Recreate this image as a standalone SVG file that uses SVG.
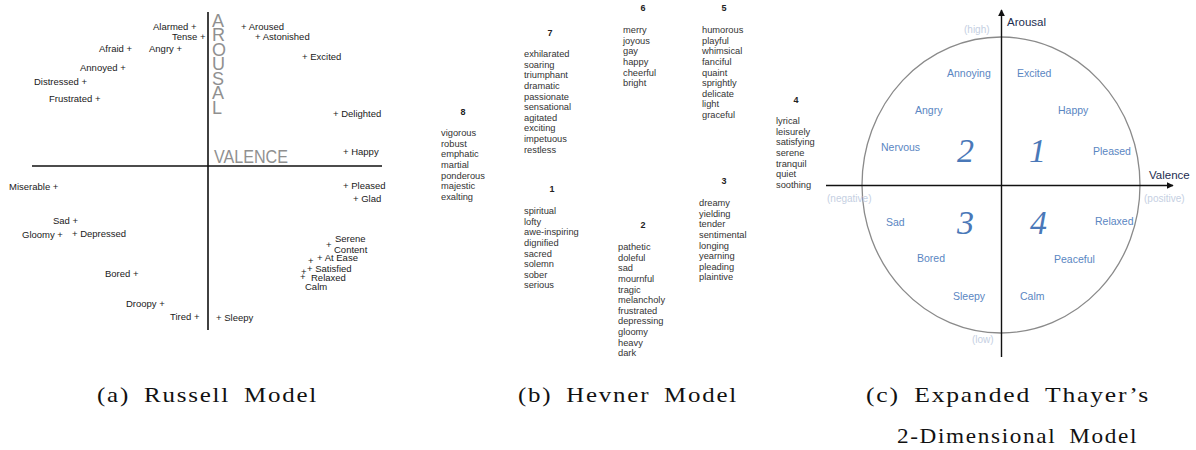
<svg xmlns="http://www.w3.org/2000/svg" width="1196" height="450" viewBox="0 0 1196 450">
<style>
.r{font-family:"Liberation Sans",Arial,sans-serif;font-size:9.5px;fill:#1a1a1a}
.big{font-family:"Liberation Sans",Arial,sans-serif;font-size:18px;fill:#909090}
.h{font-family:"Liberation Sans",Arial,sans-serif;font-size:9.3px;fill:#333}
.hn{font-family:"Liberation Sans",Arial,sans-serif;font-size:9px;font-weight:bold;fill:#222;text-anchor:middle}
.t{font-family:"Liberation Sans",Arial,sans-serif;font-size:10.5px;fill:#5a86c2}
.tl{font-family:"Liberation Sans",Arial,sans-serif;font-size:10px;fill:#c5cfe2}
.tn{font-family:"Liberation Sans",Arial,sans-serif;font-size:11.5px;fill:#1c2d4f}
.q{font-family:"Liberation Serif","Times New Roman",serif;font-size:34px;font-style:italic;fill:#4a78b8}
.cap{font-family:"Liberation Serif","Times New Roman",serif;font-size:21px;fill:#111;letter-spacing:1.5px;word-spacing:5px}
.ax{stroke:#111;stroke-width:1.6;fill:none}
.tax{stroke:#111;stroke-width:1.4;fill:none}
</style>
<defs>
<marker id="arr" viewBox="0 0 10 10" refX="9" refY="5" markerWidth="7" markerHeight="7" orient="auto" markerUnits="userSpaceOnUse">
<path d="M0,0 L10,5 L0,10 Z" fill="#111"/>
</marker>
</defs>
<rect width="1196" height="450" fill="#fff"/>

<g id="russell">
<line class="ax" x1="208" y1="12" x2="208" y2="330"/>
<line class="ax" x1="32" y1="166" x2="382" y2="166"/>
<g class="big">
<text x="212" y="27">A</text>
<text x="212" y="41">R</text>
<text x="212" y="56">O</text>
<text x="212" y="70">U</text>
<text x="212" y="85">S</text>
<text x="212" y="99">A</text>
<text x="212" y="114">L</text>
<text x="214" y="163" textLength="74" lengthAdjust="spacingAndGlyphs">VALENCE</text>
</g>
<text class="r" x="153" y="30">Alarmed +</text>
<text class="r" x="172" y="40">Tense +</text>
<text class="r" x="99" y="52">Afraid +</text>
<text class="r" x="149" y="52">Angry +</text>
<text class="r" x="80" y="71">Annoyed +</text>
<text class="r" x="34" y="85">Distressed +</text>
<text class="r" x="49" y="102">Frustrated +</text>
<text class="r" x="241" y="30">+ Aroused</text>
<text class="r" x="255" y="40">+ Astonished</text>
<text class="r" x="302" y="60">+ Excited</text>
<text class="r" x="333" y="117">+ Delighted</text>
<text class="r" x="343" y="155">+ Happy</text>
<text class="r" x="9" y="190">Miserable +</text>
<text class="r" x="343" y="189">+ Pleased</text>
<text class="r" x="353" y="202">+ Glad</text>
<text class="r" x="53" y="224">Sad +</text>
<text class="r" x="22" y="238">Gloomy +</text>
<text class="r" x="72" y="237">+ Depressed</text>
<text class="r" x="105" y="277">Bored +</text>
<text class="r" x="126" y="307">Droopy +</text>
<text class="r" x="170" y="320">Tired +</text>
<text class="r" x="216" y="321">+ Sleepy</text>
<text class="r" x="335" y="242">Serene</text>
<text class="r" x="326" y="248">+</text>
<text class="r" x="334" y="253">Content</text>
<text class="r" x="317" y="261">+ At Ease</text>
<text class="r" x="308" y="264">+</text>
<text class="r" x="307" y="272">+ Satisfied</text>
<text class="r" x="301" y="275">+</text>
<text class="r" x="300" y="280">+</text>
<text class="r" x="311" y="281">Relaxed</text>
<text class="r" x="305" y="290">Calm</text>
</g>

<g id="hevner">
<text class="hn" x="643" y="11">6</text>
<text class="hn" x="724" y="11">5</text>
<text class="hn" x="550" y="36">7</text>
<text class="hn" x="463" y="115">8</text>
<text class="hn" x="796" y="103">4</text>
<text class="hn" x="552" y="192">1</text>
<text class="hn" x="643" y="228">2</text>
<text class="hn" x="724" y="184">3</text>
<g id="hevner-7"><text class="h" y="57"><tspan x="524">exhilarated</tspan><tspan x="524" dy="10.63">soaring</tspan><tspan x="524" dy="10.63">triumphant</tspan><tspan x="524" dy="10.63">dramatic</tspan><tspan x="524" dy="10.63">passionate</tspan><tspan x="524" dy="10.63">sensational</tspan><tspan x="524" dy="10.63">agitated</tspan><tspan x="524" dy="10.63">exciting</tspan><tspan x="524" dy="10.63">impetuous</tspan><tspan x="524" dy="10.63">restless</tspan></text></g>
<g id="hevner-6"><text class="h" y="33"><tspan x="623">merry</tspan><tspan x="623" dy="10.63">joyous</tspan><tspan x="623" dy="10.63">gay</tspan><tspan x="623" dy="10.63">happy</tspan><tspan x="623" dy="10.63">cheerful</tspan><tspan x="623" dy="10.63">bright</tspan></text></g>
<g id="hevner-5"><text class="h" y="33"><tspan x="702">humorous</tspan><tspan x="702" dy="10.63">playful</tspan><tspan x="702" dy="10.63">whimsical</tspan><tspan x="702" dy="10.63">fanciful</tspan><tspan x="702" dy="10.63">quaint</tspan><tspan x="702" dy="10.63">sprightly</tspan><tspan x="702" dy="10.63">delicate</tspan><tspan x="702" dy="10.63">light</tspan><tspan x="702" dy="10.63">graceful</tspan></text></g>
<g id="hevner-8"><text class="h" y="136"><tspan x="441">vigorous</tspan><tspan x="441" dy="10.63">robust</tspan><tspan x="441" dy="10.63">emphatic</tspan><tspan x="441" dy="10.63">martial</tspan><tspan x="441" dy="10.63">ponderous</tspan><tspan x="441" dy="10.63">majestic</tspan><tspan x="441" dy="10.63">exalting</tspan></text></g>
<g id="hevner-4"><text class="h" y="124"><tspan x="776">lyrical</tspan><tspan x="776" dy="10.63">leisurely</tspan><tspan x="776" dy="10.63">satisfying</tspan><tspan x="776" dy="10.63">serene</tspan><tspan x="776" dy="10.63">tranquil</tspan><tspan x="776" dy="10.63">quiet</tspan><tspan x="776" dy="10.63">soothing</tspan></text></g>
<g id="hevner-1"><text class="h" y="214"><tspan x="524">spiritual</tspan><tspan x="524" dy="10.63">lofty</tspan><tspan x="524" dy="10.63">awe-inspiring</tspan><tspan x="524" dy="10.63">dignified</tspan><tspan x="524" dy="10.63">sacred</tspan><tspan x="524" dy="10.63">solemn</tspan><tspan x="524" dy="10.63">sober</tspan><tspan x="524" dy="10.63">serious</tspan></text></g>
<g id="hevner-2"><text class="h" y="250"><tspan x="618">pathetic</tspan><tspan x="618" dy="10.63">doleful</tspan><tspan x="618" dy="10.63">sad</tspan><tspan x="618" dy="10.63">mournful</tspan><tspan x="618" dy="10.63">tragic</tspan><tspan x="618" dy="10.63">melancholy</tspan><tspan x="618" dy="10.63">frustrated</tspan><tspan x="618" dy="10.63">depressing</tspan><tspan x="618" dy="10.63">gloomy</tspan><tspan x="618" dy="10.63">heavy</tspan><tspan x="618" dy="10.63">dark</tspan></text></g>
<g id="hevner-3"><text class="h" y="206"><tspan x="699">dreamy</tspan><tspan x="699" dy="10.63">yielding</tspan><tspan x="699" dy="10.63">tender</tspan><tspan x="699" dy="10.63">sentimental</tspan><tspan x="699" dy="10.63">longing</tspan><tspan x="699" dy="10.63">yearning</tspan><tspan x="699" dy="10.63">pleading</tspan><tspan x="699" dy="10.63">plaintive</tspan></text></g>
</g>

<g id="thayer">
<ellipse cx="1001" cy="185" rx="139" ry="148" fill="none" stroke="#8a8a8a" stroke-width="1.3"/>
<g id="connectors">
<line class="tax" x1="1001.5" y1="357" x2="1001.5" y2="10" marker-end="url(#arr)"/>
<line class="tax" x1="826" y1="185.5" x2="1173" y2="185.5" marker-end="url(#arr)"/>
</g>
<text class="tn" x="1007" y="26">Arousal</text>
<text class="tn" x="1149" y="179">Valence</text>
<text class="tl" x="964" y="33">(high)</text>
<text class="tl" x="827" y="202">(negative)</text>
<text class="tl" x="1144" y="202">(positive)</text>
<text class="tl" x="972" y="343">(low)</text>
<text class="t" x="947" y="77">Annoying</text>
<text class="t" x="1017" y="77">Excited</text>
<text class="t" x="915" y="114">Angry</text>
<text class="t" x="1058" y="114">Happy</text>
<text class="t" x="881" y="151">Nervous</text>
<text class="t" x="1093" y="155">Pleased</text>
<text class="t" x="886" y="226">Sad</text>
<text class="t" x="1095" y="225">Relaxed</text>
<text class="t" x="917" y="262">Bored</text>
<text class="t" x="1054" y="263">Peaceful</text>
<text class="t" x="953" y="300">Sleepy</text>
<text class="t" x="1020" y="300">Calm</text>
<text class="q" x="957" y="162">2</text>
<text class="q" x="1029" y="162">1</text>
<text class="q" x="957" y="234">3</text>
<text class="q" x="1030" y="234">4</text>
</g>

<g id="captions">
<text class="cap" x="97" y="402" textLength="221" lengthAdjust="spacingAndGlyphs">(a) Russell Model</text>
<text class="cap" x="518" y="402" textLength="220" lengthAdjust="spacingAndGlyphs">(b) Hevner Model</text>
<text class="cap" x="866" y="402" textLength="284" lengthAdjust="spacingAndGlyphs">(c) Expanded Thayer’s</text>
<text class="cap" x="897" y="443" textLength="241" lengthAdjust="spacingAndGlyphs">2-Dimensional Model</text>
</g>
</svg>
